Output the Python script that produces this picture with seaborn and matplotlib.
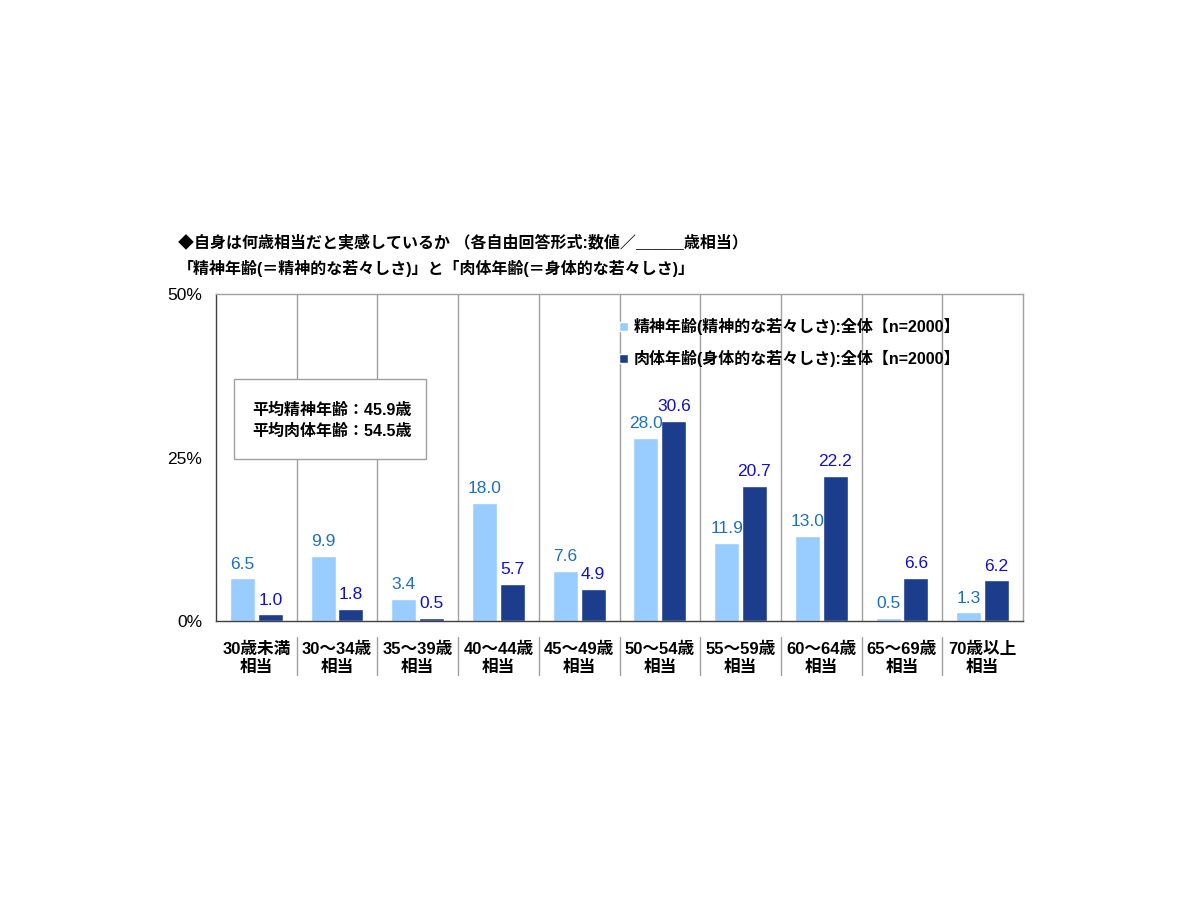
import pandas as pd
import matplotlib
matplotlib.use("Agg")
import matplotlib.pyplot as plt
import matplotlib.transforms as mtransforms
from matplotlib.patches import Rectangle
import seaborn as sns

# data
categories = ['30歳未満\n相当', '30～34歳\n相当', '35～39歳\n相当', '40～44歳\n相当',
              '45～49歳\n相当', '50～54歳\n相当', '55～59歳\n相当', '60～64歳\n相当',
              '65～69歳\n相当', '70歳以上\n相当']
mental = [6.5, 9.9, 3.4, 18.0, 7.6, 28.0, 11.9, 13.0, 0.5, 1.3]
physical = [1.0, 1.8, 0.5, 5.7, 4.9, 30.6, 20.7, 22.2, 6.6, 6.2]
series = ['精神年齢(精神的な若々しさ):全体【n=2000】',
          '肉体年齢(身体的な若々しさ):全体【n=2000】']
yticks = [0, 25, 50]
ytick_labels = ['0%', '25%', '50%']

bar_colors = ['#99CCFF', '#1C3C8C']
label_colors = ['#1F6FBF', '#1010C8']

sns.set_theme(style='white')
plt.rcParams['font.family'] = ['Liberation Sans', 'Noto Sans CJK JP', 'DejaVu Sans']
plt.rcParams['text.color'] = 'black'

df = pd.DataFrame({
    'cat': categories * 2,
    'val': mental + physical,
    'series': [series[0]] * len(categories) + [series[1]] * len(categories),
})

fig = plt.figure(figsize=(12, 9), dpi=100)
ax = fig.add_axes([0.18, 0.31, 0.6725, 0.3633])

sns.barplot(data=df, x='cat', y='val', hue='series', palette=bar_colors,
            width=0.69, gap=0.1, saturation=1, ax=ax, legend=True)

for cont, col in zip(ax.containers, label_colors):
    ax.bar_label(cont, fmt='%.1f', padding=5, color=col, fontsize=12.5)

ax.set_xlim(-0.5, len(categories) - 0.5)
ax.set_ylim(0, 50)
ax.set_xlabel('')
ax.set_ylabel('')

ax.set_yticks(yticks)
ax.set_yticklabels(ytick_labels, fontsize=12.5)
ax.set_xticks(range(len(categories)))
ax.set_xticklabels(categories, fontsize=12, fontweight='bold', linespacing=1.2)
ax.set_xticks([i - 0.5 for i in range(len(categories) + 1)], minor=True)
ax.tick_params(axis='x', which='major', length=0, pad=15, labelcolor='black')
ax.tick_params(axis='x', which='minor', length=6, width=1, color='#404040', direction='out')
ax.tick_params(axis='y', length=6, width=1, color='#404040', direction='out', pad=4,
               labelcolor='black')

for side in ['top', 'right']:
    ax.spines[side].set_color('#A0A0A0')
for side in ['left', 'bottom']:
    ax.spines[side].set_color('#404040')
for sp in ax.spines.values():
    sp.set_linewidth(1)

# category separators, inside and below the plot
trans = mtransforms.blended_transform_factory(ax.transData, ax.transAxes)
for i in range(1, len(categories)):
    ax.axvline(i - 0.5, color='#A0A0A0', lw=1, zorder=0)
    ax.plot([i - 0.5, i - 0.5], [-0.049, -0.165], transform=trans,
            color='#A0A0A0', lw=1, clip_on=False)

# legend
handles, labels = ax.get_legend_handles_labels()
ax.legend(handles, labels, loc='upper left', bbox_to_anchor=(611 / 1200, 1 - 310 / 900),
          bbox_transform=fig.transFigure, frameon=False,
          prop={'weight': 'bold', 'size': 11.5}, handlelength=0.55, handleheight=0.55,
          handletextpad=0.35, labelspacing=0.95, borderpad=0)

# average box
fig.patches.append(Rectangle((234 / 1200, 1 - 459 / 900), 192 / 1200, 80 / 900,
                             transform=fig.transFigure, facecolor='white',
                             edgecolor='#A0A0A0', lw=1, zorder=5))
fig.text(252 / 1200, 1 - 410 / 900, '平均精神年齢：45.9歳', fontsize=11.5,
         fontweight='bold', va='center', zorder=6)
fig.text(252 / 1200, 1 - 431 / 900, '平均肉体年齢：54.5歳', fontsize=11.5,
         fontweight='bold', va='center', zorder=6)

# title
fig.text(178 / 1200, 1 - 243 / 900,
         '◆自身は何歳相当だと実感しているか （各自由回答形式:数値／＿＿＿歳相当）',
         fontsize=11.5, fontweight='bold', va='center')
fig.text(178 / 1200, 1 - 268 / 900,
         '「精神年齢(＝精神的な若々しさ)」と「肉体年齢(＝身体的な若々しさ)」',
         fontsize=11.5, fontweight='bold', va='center')

fig.savefig('out.png', dpi=100, facecolor='white')
